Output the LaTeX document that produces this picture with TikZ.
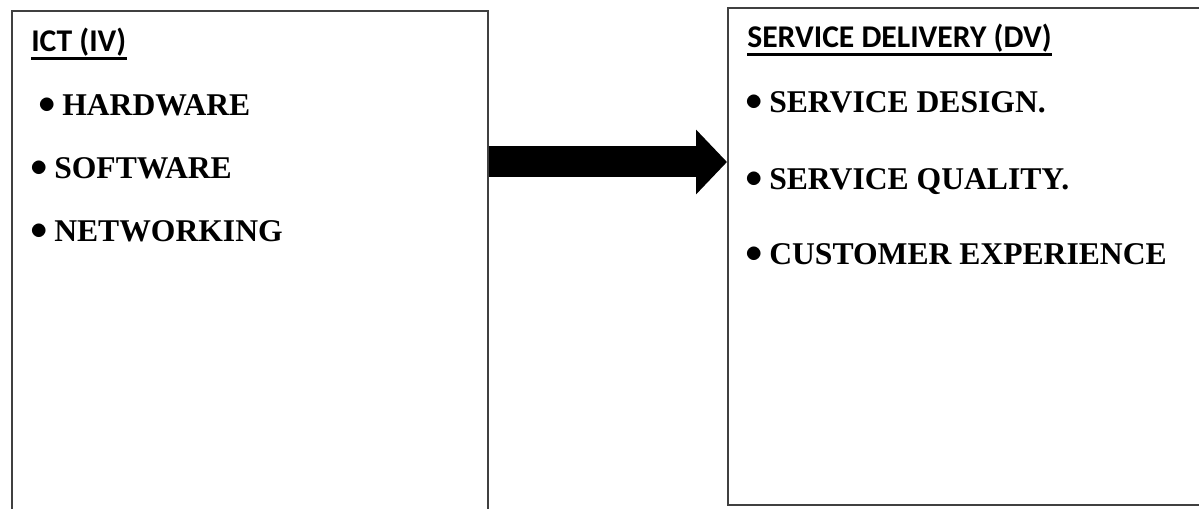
\documentclass[tikz,border=0pt]{standalone}
\usepackage{fontspec}
\setmainfont{Liberation Serif}
\newfontfamily\calibri{Carlito}
\usetikzlibrary{arrows.meta}
% a larger list dot than the plain bullet
\newcommand{\itemdot}{\raisebox{2pt}{\fontsize{31}{31}\selectfont$\bullet$}\hspace{-1pt}}

\begin{document}
\begin{tikzpicture}[every node/.style={inner sep=0pt, anchor=base west, font=\fontsize{22.5}{27}\selectfont\bfseries},
		box/.style={draw=black!75, line width=1.1pt, anchor=north west},
		head/.style={font=\fontsize{22.5}{27}\selectfont\calibri\bfseries, inner ysep=1pt},
		rule/.style={line width=2pt},
		bigarrow/.style={line width=0.775cm, -{Triangle[length=0.775cm, width=1.575cm]}}]
		\useasboundingbox (0,0) rectangle (29.975,12.7);
		\clip (0,0) rectangle (29.975,12.7);
		% \draw[help lines] (0,0) grid (30,12.7);

		% the two boxes run past the page edge
		\node[box, minimum width=11.9cm, minimum height=13.5cm] (iv) at (0.275,12.45) {};
		\node[box, minimum width=13cm, minimum height=12.425cm] (dv) at (18.175,12.525) {};

		\node[head] (ivhead) at (0.775,11.4) {ICT (IV)};
		\draw[rule] (ivhead.south west) -- (ivhead.south east);
		\node (hw) at (0.95,9.8) {\itemdot{} HARDWARE};
		\node (sw) at (0.75,8.225) {\itemdot{} SOFTWARE};
		\node (nw) at (0.75,6.65) {\itemdot{} NETWORKING};

		\node[head] (dvhead) at (18.675,11.5) {SERVICE DELIVERY (DV)};
		\draw[rule] (dvhead.south west) -- (dvhead.south east);
		\node (design) at (18.625,9.875) {\itemdot{} SERVICE DESIGN.};
		\node (quality) at (18.625,7.95) {\itemdot{} SERVICE QUALITY.};
		\node (cx) at (18.625,6.075) {\itemdot{} CUSTOMER EXPERIENCE};

		\coordinate (mid) at (0,8.65);
		\draw[bigarrow] (iv.east |- mid) -- (dv.west |- mid);
	\end{tikzpicture}
\end{document}
